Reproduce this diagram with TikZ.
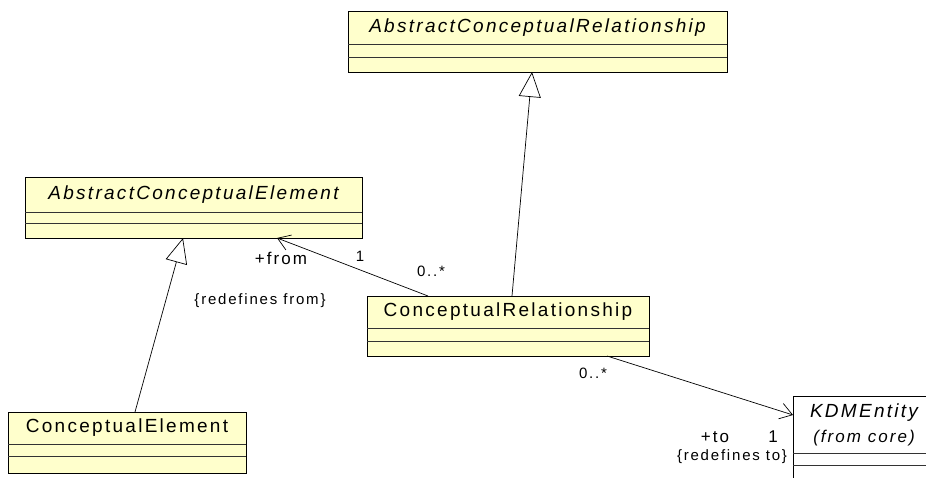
\documentclass[tikz,border=0pt]{standalone}
\usepackage{fontspec}
\setmainfont[LetterSpace=12]{Liberation Sans}
\usetikzlibrary{arrows.meta, positioning}
\definecolor{classfill}{HTML}{FFFFCC}
\newcommand{\classlines}[3]{%
  \draw[compline] ([yshift=-#2pt]#1.north west) -- ([yshift=-#2pt]#1.north east);
  \draw[compline] ([yshift=-#3pt]#1.north west) -- ([yshift=-#3pt]#1.north east);}

\begin{document}
\begin{tikzpicture}[
    x=1pt, y=-1pt,
    every node/.style={inner sep=0pt, outer sep=0pt},
    classbox/.style={rectangle, draw=black, fill=classfill, line width=0.8pt},
    classname/.style={font=\fontsize{19}{22}\selectfont, align=center},
    compline/.style={draw=black!80, line width=0.8pt},
    role/.style={font=\fontsize{17}{20}\selectfont},
    mult/.style={font=\fontsize{15}{18}\selectfont},
    constraint/.style={font=\fontsize{15}{18}\selectfont},
    gen/.style={draw, line width=0.7pt, -{Triangle[open, length=25pt, width=22pt, fill=white]}},
    assoc/.style={draw, line width=0.7pt, -{Straight Barb[length=12pt, width=16pt]}}
]
\useasboundingbox (0,0) rectangle (926,478);
\clip (0,0) rectangle (926,478);

% classes
\node[classbox, minimum width=379pt, minimum height=61pt] (acr) at (537.5,41.5) {};
\node[classname, anchor=north, minimum height=33pt] (acr-name) at (acr.north) {\itshape AbstractConceptualRelationship};
\classlines{acr}{33}{46}

\node[classbox, minimum width=337pt, minimum height=61pt] (ace) at (193.5,207.5) {};
\node[classname, anchor=north, minimum height=35pt] (ace-name) at (ace.north) {\itshape AbstractConceptualElement};
\classlines{ace}{35}{46}

\node[classbox, minimum width=282pt, minimum height=60pt] (cr) at (508,326) {};
\node[classname, anchor=north, minimum height=32pt] (cr-name) at (cr.north) {ConceptualRelationship};
\classlines{cr}{32}{45}

\node[classbox, minimum width=238pt, minimum height=61pt] (ce) at (127,442.5) {};
\node[classname, anchor=north, minimum height=32pt] (ce-name) at (ce.north) {ConceptualElement};
\classlines{ce}{32}{44}

\node[classbox, fill=white, minimum width=142pt, minimum height=94pt] (kdm) at (864,443) {};
\node[classname, anchor=north, minimum height=57pt] (kdm-name) at (kdm.north)
  {\itshape KDMEntity\\[3pt]\fontsize{17}{20}\selectfont\itshape (from core)};
\classlines{kdm}{57}{69}

% connectors
\draw[gen] ([xshift=8pt]ce.north) -- ([xshift=-10.5pt]ace.south);
\draw[gen] ([xshift=4pt]cr.north) -- ([xshift=-5.5pt]acr.south);
\draw[assoc] ([xshift=-80pt]cr.north) -- ([xshift=83.5pt]ace.south);
\draw[assoc] ([xshift=99pt]cr.south) -- ([yshift=-19pt]kdm.north west);

% labels
\node[role] (from-role) at (281,258) {+from};
\node[mult] (from-mult) at (360,256) {1};
\node[mult] (cr-mult-a) at (431,271) {0..*};
\node[constraint] (from-note) at (260,301) {\{redefines from\}};
\node[mult] (cr-mult-b) at (593,373) {0..*};
\node[role] (to-role) at (715,437) {+to};
\node[role] (to-mult) at (773,437) {1};
\node[constraint, anchor=east] (to-note) at (787,457) {\{redefines to\}};
\end{tikzpicture}
\end{document}
